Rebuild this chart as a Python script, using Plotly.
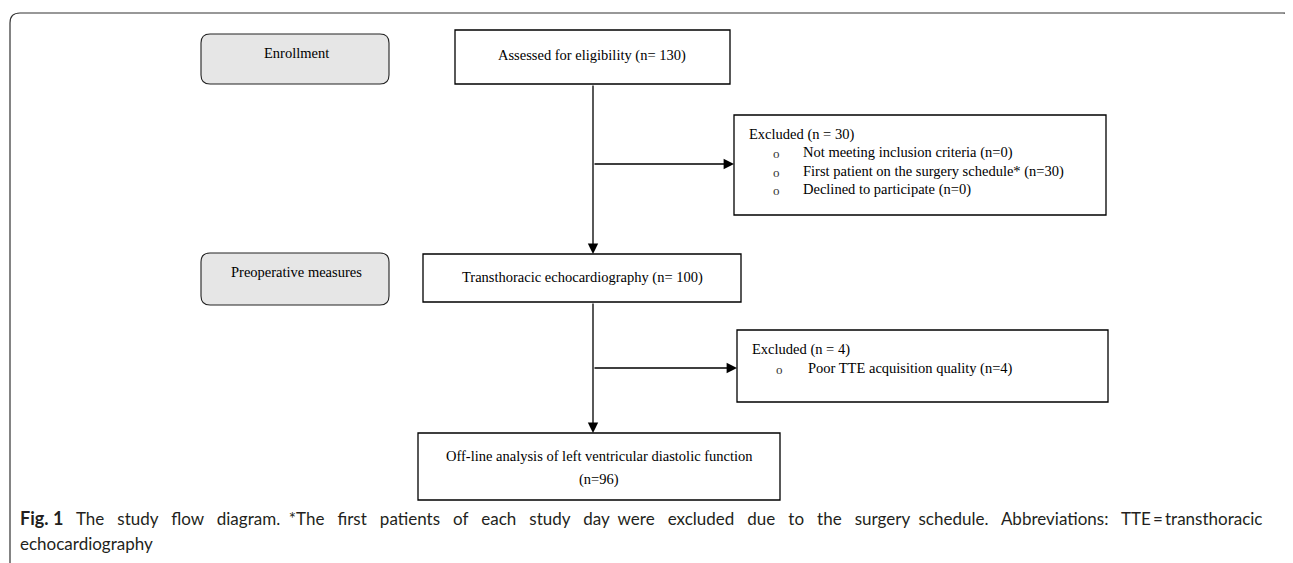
import plotly.graph_objects as go

W, H = 1293, 563
OFF = 8  # browser body margin

# ---- data (labels and counts) ----
stage_labels = ["Enrollment", "Preoperative measures"]
main_labels = ["Assessed for eligibility", "Transthoracic echocardiography",
               "Off-line analysis of left ventricular diastolic function"]
main_counts = [130, 100, 96]
excl_totals = [30, 4]
excl1_reasons = ["Not meeting inclusion criteria", "First patient on the surgery schedule*",
                 "Declined to participate"]
excl1_counts = [0, 30, 0]
excl2_reasons = ["Poor TTE acquisition quality"]
excl2_counts = [4]
caption_label = "Fig. 1"
caption_words = ("The study flow diagram. *The first patients of each study day were excluded "
                 "due to the surgery schedule. Abbreviations: TTE").split(" ")
caption_tail = "\u2009=\u2009transthoracic"
caption_line2 = "echocardiography"

# ---- styling ----
SERIF = "Liberation Serif, Times New Roman, serif"
SANS = "Lato, Noto Sans, sans-serif"
LW = 1.3

fig = go.Figure()
shapes = []
ann = []


def rect(x0, y0, x1, y1):
    shapes.append(dict(type="rect", xref="x", yref="y", x0=x0, y0=y0, x1=x1, y1=y1,
                       line=dict(color="black", width=LW), fillcolor="white", layer="below"))


def rrect(x0, y0, x1, y1, r=9):
    p = (f"M{x0+r},{y0} L{x1-r},{y0} Q{x1},{y0} {x1},{y0+r} L{x1},{y1-r} Q{x1},{y1} {x1-r},{y1} "
         f"L{x0+r},{y1} Q{x0},{y1} {x0},{y1-r} L{x0},{y0+r} Q{x0},{y0} {x0+r},{y0} Z")
    shapes.append(dict(type="path", xref="x", yref="y", path=p,
                       line=dict(color="#222", width=1.1), fillcolor="#e6e6e6", layer="below"))


def text(x, y, s, size=14.5, anchor="center", font=SERIF, color="black"):
    ann.append(dict(x=x, y=y, xref="x", yref="y", text=s, showarrow=False,
                    xanchor=anchor, yanchor="middle",
                    font=dict(family=font, size=size, color=color)))


def arrow(x0, y0, x1, y1):
    ann.append(dict(x=x1, y=y1, ax=x0, ay=y0, xref="x", yref="y", axref="x", ayref="y",
                    text="", showarrow=True, arrowhead=2, arrowsize=1.6, arrowwidth=LW,
                    arrowcolor="black", standoff=0))


# outer frame
shapes.append(dict(type="path", xref="x", yref="y",
                   path="M10,563 L10,23 Q10,13 20,13 L1283,13 Q1291,13 1293,19",
                   line=dict(color="#333", width=1.2)))

# stage boxes
rrect(201, 34, 389, 84)
text(296, 53, stage_labels[0])
rrect(201, 253, 389, 305)
text(296, 272, stage_labels[1])

# main boxes
rect(455, 30, 730, 84)
text(592, 55, f"{main_labels[0]} (n= {main_counts[0]})")
rect(423, 254, 741, 302)
text(582, 277, f"{main_labels[1]} (n= {main_counts[1]})")
rect(418, 433, 780, 500)
text(599, 456, main_labels[2].replace("Off-line", "Off\u2011line"))
text(599, 479, f"(n={main_counts[2]})")

# exclusion boxes
rect(734, 115, 1106, 215)
text(747, 134, f"Excluded (n = {excl_totals[0]})", anchor="left")
for i, (r, c) in enumerate(zip(excl1_reasons, excl1_counts)):
    yy = 152.5 + i * 18.5
    text(776, yy + 1, "o", size=13, anchor="center", color="#333")
    text(801, yy, f"{r} (n={c})", anchor="left")

rect(737, 330, 1108, 402)
text(750, 349, f"Excluded (n = {excl_totals[1]})", anchor="left")
for i, (r, c) in enumerate(zip(excl2_reasons, excl2_counts)):
    yy = 368 + i * 18.5
    text(779, yy + 1, "o", size=13, anchor="center", color="#333")
    text(806, yy, f"{r} (n={c})", anchor="left")

# connectors
arrow(593, 84, 593, 254)
arrow(593, 164, 734, 164)
arrow(593, 302, 593, 433)
arrow(593, 368, 737, 368)

# caption (justified first line: widened word gaps)
gaps = [" " + "\u00a0" * (1 if i in (4, 11, 17) else 2) for i in range(len(caption_words))]
line1 = f"<b style='font-size:18px'>{caption_label}</b>" + "".join(
    g + w for g, w in zip(gaps, caption_words)) + caption_tail
text(18, 518, line1, size=17, anchor="left", font=SANS, color="#231f20")
text(18, 543, caption_line2, size=17, anchor="left", font=SANS, color="#231f20")

fig.update_layout(
    width=W - OFF, height=H - OFF, margin=dict(l=0, r=0, t=0, b=0),
    paper_bgcolor="white", plot_bgcolor="white",
    xaxis=dict(range=[OFF, W], visible=False, fixedrange=True),
    yaxis=dict(range=[H, OFF], visible=False, fixedrange=True),
    shapes=shapes, annotations=ann, showlegend=False,
)
fig.write_html("out.html")
